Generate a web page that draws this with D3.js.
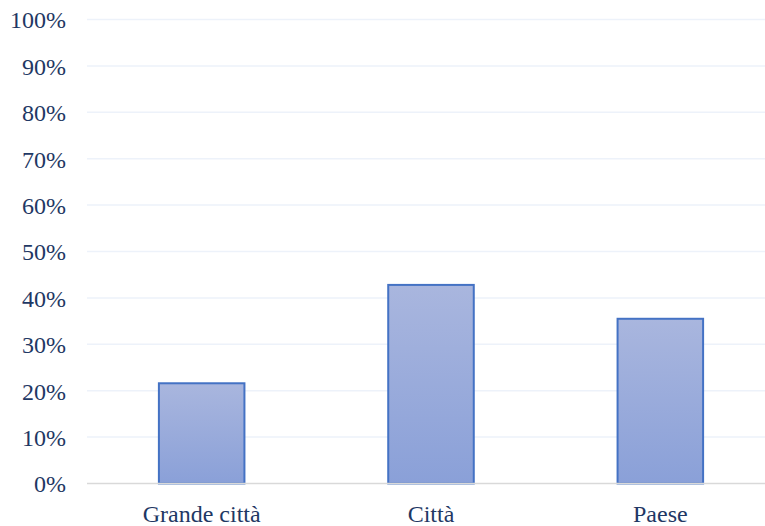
<!DOCTYPE html>
<html>
<head>
<meta charset="utf-8">
<script src="https://cdn.jsdelivr.net/npm/d3@7"></script>
<style>
  html, body { margin: 0; padding: 0; background: #fff; }
  svg { display: block; }
  .lbl text { font-family: "Liberation Serif", "DejaVu Serif", serif; }
</style>
</head>
<body>
<svg id="chart" width="765" height="526"></svg>
<script>
// Share by settlement type
const categories = ["Grande città", "Città", "Paese"];
const values = [0.216, 0.428, 0.355];
const yTicks = [0, 0.1, 0.2, 0.3, 0.4, 0.5, 0.6, 0.7, 0.8, 0.9, 1.0];

const svg = d3.select("#chart");
const W = 765, H = 526;
const plot = { left: 87, right: 775, top: 19.5, bottom: 483.5 };
const textColor = "#1F3864";
const font = "Liberation Serif";

const x = d3.scaleBand().domain(categories).range([plot.left, plot.right])
  .paddingInner(0.627).paddingOuter(0.3135);
const y = d3.scaleLinear().domain([0, 1]).range([plot.bottom, plot.top]);

const defs = svg.append("defs");
const grad = defs.append("linearGradient").attr("id", "barFill")
  .attr("x1", 0).attr("y1", 0).attr("x2", 0).attr("y2", 1);
grad.append("stop").attr("offset", "0%").attr("stop-color", "#A9B6DE");
grad.append("stop").attr("offset", "100%").attr("stop-color", "#8AA0D8");

// Horizontal gridlines
svg.append("g").selectAll("line").data(yTicks.filter(d => d > 0)).join("line")
  .attr("x1", plot.left).attr("x2", W)
  .attr("y1", d => y(d)).attr("y2", d => y(d))
  .attr("stroke", "#EDF2FA").attr("stroke-width", 1.5);

// Y axis labels
const yAxis = d3.axisLeft(y).tickValues(yTicks).tickFormat(d3.format(".0%")).tickSize(0).tickPadding(21);
const gy = svg.append("g").attr("class", "lbl").attr("transform", `translate(${plot.left},0)`).call(yAxis)
  .attr("font-family", font).attr("font-size", 24);
gy.select(".domain").remove();
gy.selectAll("text").attr("fill", textColor).attr("dy", "0.35em");

// Bars
svg.append("g").selectAll("rect").data(categories).join("rect")
  .attr("x", d => x(d))
  .attr("width", x.bandwidth())
  .attr("y", (d, i) => y(values[i]))
  .attr("height", (d, i) => y(0) - y(values[i]))
  .attr("fill", "url(#barFill)")
  .attr("stroke", "#4472C4").attr("stroke-width", 2);

// Baseline
svg.append("line").attr("x1", plot.left).attr("x2", W).attr("y1", y(0)).attr("y2", y(0))
  .attr("stroke", "#D9D9D9").attr("stroke-width", 1.5);

// X axis labels
const xAxis = d3.axisBottom(x).tickSize(0).tickPadding(21);
const gx = svg.append("g").attr("class", "lbl").attr("transform", `translate(0,${plot.bottom})`).call(xAxis)
  .attr("font-family", font).attr("font-size", 24);
gx.select(".domain").remove();
gx.selectAll("text").attr("fill", textColor);
</script>
</body>
</html>
